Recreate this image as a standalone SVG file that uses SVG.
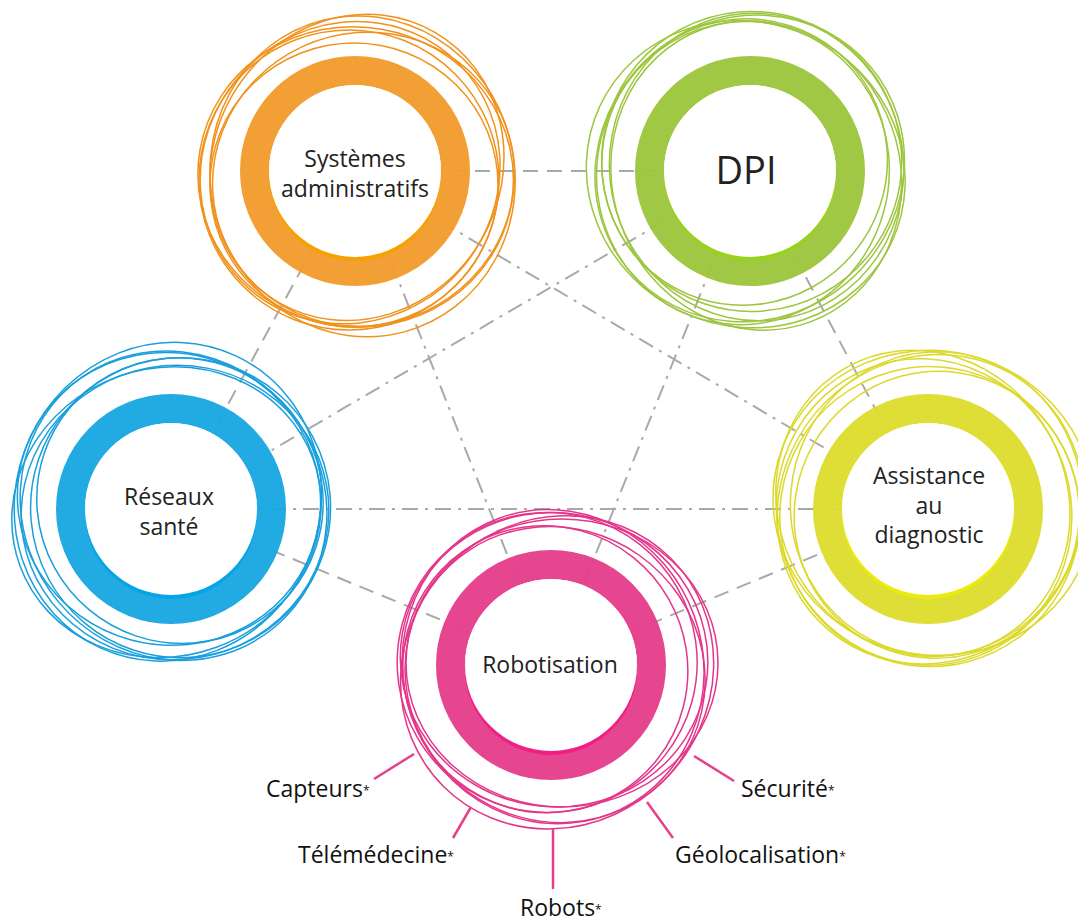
<svg xmlns="http://www.w3.org/2000/svg" xmlns:xlink="http://www.w3.org/1999/xlink" width="1078" height="922" viewBox="0 0 1078 922">
<style>
.lbl{font-family:"Open Sans","Noto Sans","Liberation Sans",sans-serif;font-size:23px;fill:#222;text-anchor:middle}
.side{font-family:"Open Sans","Noto Sans","Liberation Sans",sans-serif;font-size:23px;fill:#111}
.star{font-size:12px}
.dash{stroke:#a9a9a9;stroke-width:2;fill:none;stroke-dasharray:15 9}
.dd{stroke:#a9a9a9;stroke-width:2;fill:none;stroke-dasharray:16 7 3 7}
.spoke{stroke:#e5408c;stroke-width:2.5;fill:none}
.ring{fill:none;stroke-width:29;opacity:0.97}
</style>
<defs>
<g id="scribble" fill="none" stroke="currentColor" stroke-width="1.5">
<ellipse cx="0" cy="2" rx="158" ry="150" transform="rotate(10)"/>
<ellipse cx="5" cy="7" rx="152" ry="146" transform="rotate(-25)"/>
<ellipse cx="-6" cy="2" rx="147" ry="154" transform="rotate(40)"/>
<ellipse cx="7" cy="-3" rx="156" ry="144" transform="rotate(-60)"/>
<ellipse cx="-2" cy="10" rx="144" ry="142"/>
<ellipse cx="3" cy="-6" rx="161" ry="152" transform="rotate(75)"/>
<ellipse cx="-7" cy="5" rx="150" ry="150"/>
</g>
</defs>
<rect width="1078" height="922" fill="#fff"/>
<g id="connectors">
<line class="dash" x1="355" y1="171" x2="750" y2="171"/>
<line class="dash" x1="750" y1="171" x2="928" y2="509"/>
<line class="dash" x1="928" y1="509" x2="551" y2="665"/>
<line class="dash" x1="551" y1="665" x2="171" y2="509"/>
<line class="dash" x1="171" y1="509" x2="355" y2="171"/>
<line class="dd" x1="355" y1="171" x2="928" y2="509"/>
<line class="dd" x1="355" y1="171" x2="551" y2="665"/>
<line class="dd" x1="750" y1="171" x2="171" y2="509"/>
<line class="dd" x1="750" y1="171" x2="551" y2="665"/>
<line class="dd" x1="171" y1="509" x2="928" y2="509"/>
</g>
<g id="node-systemes">
<use xlink:href="#scribble" transform="translate(356,175)" color="#f0921c"/>
<circle class="ring" cx="355" cy="171" r="100.5" stroke="#f29d2e"/>
<circle cx="355" cy="175" r="86" fill="#f7a100"/>
<circle cx="355" cy="171" r="86" fill="#fff"/>
<text class="lbl" x="355" y="167">Systèmes</text>
<text class="lbl" x="355" y="197">administratifs</text>
</g>
<g id="node-dpi">
<use xlink:href="#scribble" transform="translate(751,170) rotate(130)" color="#9dc63f"/>
<circle class="ring" cx="750" cy="171" r="100.5" stroke="#9dc63f"/>
<circle cx="750" cy="175" r="86" fill="#98d21a"/>
<circle cx="750" cy="171" r="86" fill="#fff"/>
<text class="lbl" x="746" y="184" style="font-size:38px">DPI</text>
</g>
<g id="node-reseaux">
<use xlink:href="#scribble" transform="translate(172,507) rotate(220)" color="#1a9fdc"/>
<circle class="ring" cx="171" cy="509" r="100.5" stroke="#1ba7e1"/>
<circle cx="171" cy="513" r="86" fill="#05a4e6"/>
<circle cx="171" cy="509" r="86" fill="#fff"/>
<text class="lbl" x="169" y="505">Réseaux</text>
<text class="lbl" x="169" y="535">santé</text>
</g>
<g id="node-assistance">
<use xlink:href="#scribble" transform="translate(929,508) rotate(300)" color="#dcd92a"/>
<circle class="ring" cx="928" cy="509" r="100.5" stroke="#dedd30"/>
<circle cx="928" cy="513" r="86" fill="#ecec0c"/>
<circle cx="928" cy="509" r="86" fill="#fff"/>
<text class="lbl" x="929" y="484">Assistance</text>
<text class="lbl" x="929" y="514">au</text>
<text class="lbl" x="929" y="543">diagnostic</text>
</g>
<g id="node-robotisation">
<use xlink:href="#scribble" transform="translate(555,666) rotate(60)" color="#e3368a"/>
<circle class="ring" cx="551" cy="665" r="100.5" stroke="#e5408c"/>
<circle cx="551" cy="669" r="86" fill="#ef1f84"/>
<circle cx="551" cy="665" r="86" fill="#fff"/>
<text class="lbl" x="550" y="673">Robotisation</text>
</g>
<g id="spokes">
<line class="spoke" x1="414" y1="754" x2="374" y2="779"/>
<line class="spoke" x1="471" y1="807" x2="453" y2="838"/>
<line class="spoke" x1="553" y1="828" x2="553" y2="889"/>
<line class="spoke" x1="647" y1="802" x2="673" y2="838"/>
<line class="spoke" x1="694" y1="756" x2="734" y2="781"/>
</g>
<g id="labels">
<text class="side" x="266" y="797">Capteurs<tspan class="star" dy="-2">*</tspan></text>
<text class="side" x="298" y="863">Télémédecine<tspan class="star" dy="-2">*</tspan></text>
<text class="side" x="520" y="916">Robots<tspan class="star" dy="-2">*</tspan></text>
<text class="side" x="675" y="863">Géolocalisation<tspan class="star" dy="-2">*</tspan></text>
<text class="side" x="741" y="797">Sécurité<tspan class="star" dy="-2">*</tspan></text>
</g>
</svg>
